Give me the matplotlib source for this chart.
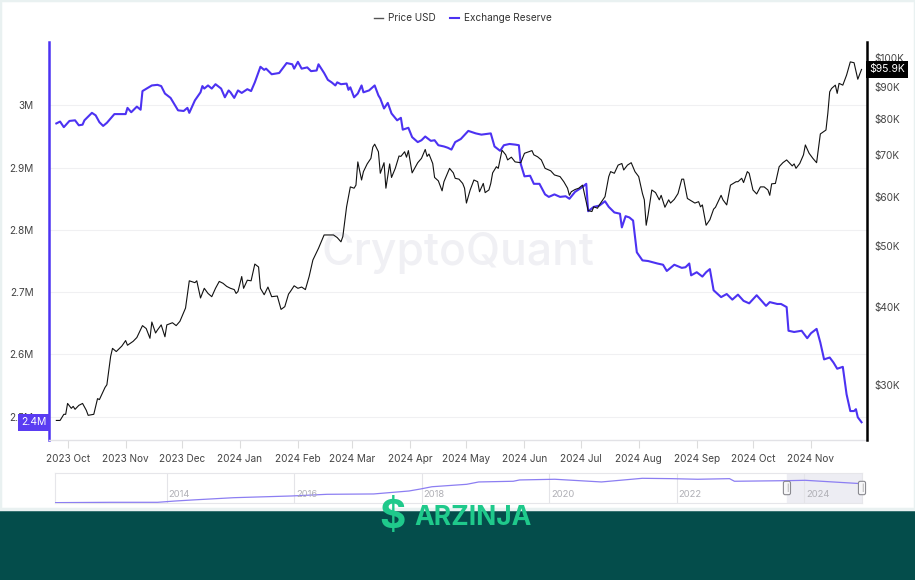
import matplotlib
matplotlib.use("Agg")
import matplotlib.pyplot as plt
import matplotlib.dates as mdates
import matplotlib.transforms as mtransforms
from matplotlib.patches import Rectangle
from matplotlib.lines import Line2D
import pandas as pd

plt.rcParams['font.family'] = ['Inter', 'DejaVu Sans']

# 交易所储备 (百万 BTC)
reserve_dates = [
    "2023-09-25", "2023-09-27", "2023-09-29", "2023-10-02", "2023-10-05", "2023-10-07", "2023-10-09",
    "2023-10-10", "2023-10-14", "2023-10-16", "2023-10-18", "2023-10-20", "2023-10-22", "2023-10-26",
    "2023-11-01", "2023-11-02", "2023-11-04", "2023-11-07", "2023-11-09", "2023-11-10", "2023-11-15",
    "2023-11-18", "2023-11-20", "2023-11-22", "2023-11-25", "2023-11-29", "2023-12-02", "2023-12-04",
    "2023-12-05", "2023-12-08", "2023-12-11", "2023-12-12", "2023-12-13", "2023-12-15", "2023-12-17",
    "2023-12-19", "2023-12-22", "2023-12-24", "2023-12-26", "2023-12-27", "2023-12-29", "2023-12-31",
    "2024-01-02", "2024-01-05", "2024-01-07", "2024-01-09", "2024-01-12", "2024-01-14", "2024-01-15",
    "2024-01-18", "2024-01-22", "2024-01-26", "2024-01-29", "2024-01-30", "2024-02-01", "2024-02-03",
    "2024-02-06", "2024-02-08", "2024-02-11", "2024-02-12", "2024-02-15", "2024-02-17", "2024-02-19",
    "2024-02-21", "2024-02-22", "2024-02-24", "2024-02-27", "2024-02-28", "2024-02-29", "2024-03-02",
    "2024-03-04", "2024-03-06", "2024-03-07", "2024-03-10", "2024-03-13", "2024-03-15", "2024-03-16",
    "2024-03-18", "2024-03-20", "2024-03-22", "2024-03-25", "2024-03-27", "2024-03-28", "2024-03-31",
    "2024-04-02", "2024-04-05", "2024-04-07", "2024-04-09", "2024-04-12", "2024-04-14", "2024-04-16",
    "2024-04-19", "2024-04-21", "2024-04-23", "2024-04-25", "2024-04-28", "2024-05-02", "2024-05-06",
    "2024-05-09", "2024-05-14", "2024-05-16", "2024-05-19", "2024-05-21", "2024-05-24", "2024-05-27",
    "2024-05-29", "2024-05-30", "2024-06-01", "2024-06-04", "2024-06-06", "2024-06-09", "2024-06-12",
    "2024-06-14", "2024-06-17", "2024-06-20", "2024-06-23", "2024-06-25", "2024-06-28", "2024-07-02",
    "2024-07-04", "2024-07-05", "2024-07-08", "2024-07-11", "2024-07-14", "2024-07-16", "2024-07-19",
    "2024-07-22", "2024-07-23", "2024-07-25", "2024-07-27", "2024-07-29", "2024-07-31", "2024-08-03",
    "2024-08-06", "2024-08-11", "2024-08-14", "2024-08-16", "2024-08-20", "2024-08-24", "2024-08-26",
    "2024-08-28", "2024-08-29", "2024-09-01", "2024-09-04", "2024-09-06", "2024-09-08", "2024-09-10",
    "2024-09-14", "2024-09-17", "2024-09-20", "2024-09-23", "2024-09-26", "2024-09-29", "2024-10-03",
    "2024-10-08", "2024-10-10", "2024-10-14", "2024-10-16", "2024-10-19", "2024-10-20", "2024-10-23",
    "2024-10-27", "2024-10-30", "2024-11-01", "2024-11-04", "2024-11-06", "2024-11-08", "2024-11-11",
    "2024-11-13", "2024-11-15", "2024-11-18", "2024-11-20", "2024-11-22", "2024-11-24", "2024-11-25",
    "2024-11-26", "2024-11-28",
]
reserve_vals = [
    2.971, 2.974, 2.965, 2.975, 2.976, 2.968, 2.969, 2.976, 2.988, 2.984, 2.973, 2.967, 2.972, 2.986,
    2.986, 2.996, 2.989, 2.998, 2.993, 3.023, 3.032, 3.033, 3.031, 3.019, 3.012, 2.992, 2.991, 2.996,
    2.988, 3.008, 3.021, 3.031, 3.027, 3.032, 3.027, 3.034, 3.027, 3.013, 3.024, 3.021, 3.012, 3.024,
    3.020, 3.026, 3.023, 3.037, 3.062, 3.057, 3.059, 3.050, 3.052, 3.068, 3.066, 3.059, 3.070, 3.059,
    3.061, 3.055, 3.056, 3.066, 3.052, 3.041, 3.037, 3.032, 3.037, 3.034, 3.035, 3.025, 3.029, 3.013,
    3.019, 3.032, 3.021, 3.024, 3.032, 3.016, 3.011, 2.995, 3.004, 2.987, 2.976, 2.980, 2.961, 2.964,
    2.949, 2.941, 2.944, 2.950, 2.943, 2.944, 2.936, 2.934, 2.932, 2.929, 2.941, 2.946, 2.959, 2.955,
    2.953, 2.955, 2.934, 2.927, 2.936, 2.938, 2.937, 2.936, 2.906, 2.886, 2.887, 2.874, 2.874, 2.857,
    2.853, 2.857, 2.853, 2.854, 2.850, 2.861, 2.869, 2.874, 2.830, 2.837, 2.839, 2.846, 2.837, 2.828,
    2.826, 2.804, 2.822, 2.820, 2.815, 2.764, 2.751, 2.750, 2.746, 2.744, 2.734, 2.744, 2.739, 2.740,
    2.746, 2.727, 2.732, 2.725, 2.732, 2.737, 2.703, 2.692, 2.697, 2.688, 2.696, 2.686, 2.682, 2.695,
    2.678, 2.684, 2.681, 2.681, 2.676, 2.638, 2.636, 2.638, 2.626, 2.634, 2.641, 2.619, 2.592, 2.595,
    2.587, 2.577, 2.580, 2.536, 2.509, 2.509, 2.512, 2.499, 2.491,
]

# BTC 价格 (千美元)
price_dates = [
    "2023-09-25", "2023-09-27", "2023-09-29", "2023-09-30", "2023-10-01", "2023-10-03", "2023-10-04",
    "2023-10-05", "2023-10-07", "2023-10-09", "2023-10-11", "2023-10-12", "2023-10-15", "2023-10-17",
    "2023-10-18", "2023-10-21", "2023-10-22", "2023-10-24", "2023-10-25", "2023-10-27", "2023-10-30",
    "2023-11-01", "2023-11-02", "2023-11-05", "2023-11-07", "2023-11-10", "2023-11-12", "2023-11-14",
    "2023-11-15", "2023-11-17", "2023-11-18", "2023-11-20", "2023-11-22", "2023-11-23", "2023-11-26",
    "2023-11-28", "2023-11-30", "2023-12-03", "2023-12-05", "2023-12-08", "2023-12-09", "2023-12-11",
    "2023-12-13", "2023-12-15", "2023-12-17", "2023-12-19", "2023-12-21", "2023-12-23", "2023-12-25",
    "2023-12-27", "2023-12-29", "2023-12-30", "2023-12-31", "2024-01-02", "2024-01-03", "2024-01-05",
    "2024-01-07", "2024-01-09", "2024-01-11", "2024-01-12", "2024-01-14", "2024-01-16", "2024-01-18",
    "2024-01-21", "2024-01-23", "2024-01-25", "2024-01-27", "2024-01-28", "2024-01-30", "2024-02-01",
    "2024-02-03", "2024-02-05", "2024-02-07", "2024-02-09", "2024-02-12", "2024-02-15", "2024-02-17",
    "2024-02-20", "2024-02-22", "2024-02-24", "2024-02-25", "2024-02-27", "2024-02-29", "2024-03-02",
    "2024-03-03", "2024-03-04", "2024-03-06", "2024-03-07", "2024-03-09", "2024-03-11", "2024-03-12",
    "2024-03-13", "2024-03-15", "2024-03-16", "2024-03-18", "2024-03-19", "2024-03-21", "2024-03-22",
    "2024-03-24", "2024-03-26", "2024-03-27", "2024-03-29", "2024-03-30", "2024-03-31", "2024-04-02",
    "2024-04-05", "2024-04-07", "2024-04-09", "2024-04-10", "2024-04-11", "2024-04-13", "2024-04-14",
    "2024-04-16", "2024-04-18", "2024-04-19", "2024-04-22", "2024-04-24", "2024-04-25", "2024-04-27",
    "2024-04-29", "2024-04-30", "2024-05-01", "2024-05-03", "2024-05-05", "2024-05-07", "2024-05-08",
    "2024-05-10", "2024-05-11", "2024-05-13", "2024-05-14", "2024-05-15", "2024-05-17", "2024-05-18",
    "2024-05-20", "2024-05-22", "2024-05-23", "2024-05-25", "2024-05-27", "2024-05-30", "2024-06-01",
    "2024-06-05", "2024-06-06", "2024-06-08", "2024-06-10", "2024-06-12", "2024-06-15", "2024-06-17",
    "2024-06-20", "2024-06-22", "2024-06-24", "2024-06-25", "2024-06-26", "2024-06-28", "2024-06-30",
    "2024-07-02", "2024-07-03", "2024-07-05", "2024-07-07", "2024-07-08", "2024-07-10", "2024-07-11",
    "2024-07-14", "2024-07-16", "2024-07-17", "2024-07-19", "2024-07-21", "2024-07-23", "2024-07-24",
    "2024-07-26", "2024-07-28", "2024-07-30", "2024-08-01", "2024-08-03", "2024-08-04", "2024-08-05",
    "2024-08-06", "2024-08-08", "2024-08-10", "2024-08-12", "2024-08-13", "2024-08-15", "2024-08-17",
    "2024-08-18", "2024-08-20", "2024-08-22", "2024-08-24", "2024-08-25", "2024-08-27", "2024-08-29",
    "2024-08-31", "2024-09-02", "2024-09-03", "2024-09-04", "2024-09-06", "2024-09-08", "2024-09-10",
    "2024-09-11", "2024-09-14", "2024-09-15", "2024-09-17", "2024-09-19", "2024-09-22", "2024-09-23",
    "2024-09-25", "2024-09-26", "2024-09-28", "2024-09-29", "2024-10-01", "2024-10-03", "2024-10-05",
    "2024-10-07", "2024-10-09", "2024-10-10", "2024-10-11", "2024-10-13", "2024-10-15", "2024-10-17",
    "2024-10-19", "2024-10-21", "2024-10-22", "2024-10-23", "2024-10-24", "2024-10-26", "2024-10-28",
    "2024-10-29", "2024-10-31", "2024-11-02", "2024-11-04", "2024-11-06", "2024-11-09", "2024-11-10",
    "2024-11-11", "2024-11-12", "2024-11-14", "2024-11-15", "2024-11-16", "2024-11-18", "2024-11-20",
    "2024-11-22", "2024-11-24", "2024-11-26", "2024-11-28",
]
price_vals = [
    26.3, 26.3, 26.9, 26.9, 28.0, 27.5, 27.7, 27.4, 27.8, 28.0, 27.3, 26.8, 26.9, 28.5,
    28.4, 29.7, 30.0, 33.3, 34.3, 33.9, 34.6, 35.3, 34.7, 35.2, 35.7, 37.3, 36.9, 35.6,
    37.8, 36.3, 36.7, 37.4, 35.8, 37.4, 37.7, 37.3, 37.9, 39.8, 44.0, 43.7, 44.0, 41.3,
    42.8, 42.0, 41.5, 42.8, 43.9, 43.6, 43.1, 42.8, 42.6, 42.0, 42.3, 44.7, 42.8, 44.1,
    44.0, 46.8, 46.3, 42.8, 41.8, 43.0, 41.5, 41.6, 39.6, 40.0, 41.9, 42.3, 43.2, 42.8,
    43.0, 42.6, 44.7, 47.5, 49.6, 52.1, 52.1, 52.1, 51.6, 50.8, 51.8, 57.8, 62.2, 61.9,
    62.6, 68.2, 63.8, 65.8, 67.7, 69.1, 72.0, 72.8, 70.8, 65.4, 68.0, 61.9, 67.7, 64.4,
    66.6, 69.7, 69.6, 70.8, 69.4, 71.1, 65.5, 68.0, 69.1, 71.4, 69.6, 70.2, 67.8, 64.4,
    63.6, 61.3, 63.4, 66.6, 65.5, 64.2, 64.0, 63.0, 61.9, 58.6, 61.5, 63.8, 63.4, 61.1,
    63.0, 60.9, 61.5, 63.0, 65.5, 67.0, 66.6, 71.2, 70.0, 68.7, 69.4, 68.2, 68.0, 70.4,
    71.1, 70.0, 69.5, 68.7, 66.6, 66.0, 65.0, 64.6, 63.4, 61.9, 60.3, 61.1, 61.6, 61.9,
    62.6, 60.7, 57.0, 56.8, 57.8, 57.5, 58.2, 60.0, 64.6, 65.8, 65.4, 67.4, 67.8, 66.2,
    67.4, 68.0, 65.8, 64.6, 60.7, 59.3, 54.0, 56.1, 61.5, 60.9, 59.3, 60.3, 57.7, 59.3,
    58.6, 59.4, 60.7, 64.0, 64.0, 59.6, 59.1, 58.6, 58.9, 57.8, 58.2, 54.0, 55.1, 57.3,
    57.7, 60.3, 59.3, 58.2, 62.6, 63.4, 63.4, 64.2, 63.2, 65.8, 65.4, 61.5, 60.6, 62.2,
    62.2, 61.5, 60.3, 62.9, 63.0, 67.0, 68.0, 68.7, 67.7, 67.2, 67.7, 66.6, 67.8, 70.0,
    72.6, 70.4, 69.1, 68.0, 75.6, 76.7, 81.6, 88.3, 89.4, 90.5, 87.8, 91.1, 90.5, 93.9,
    98.6, 98.3, 92.5, 95.9,
]

# 底部导航条：全历史交易所储备 (百万 BTC)
nav_dates = [
    "2012-04-01", "2013-02-17", "2013-11-10", "2014-02-20", "2014-05-30", "2015-01-20", "2015-12-20",
    "2016-07-08", "2017-04-01", "2017-10-20", "2017-12-25", "2018-03-01", "2018-09-16", "2018-11-24",
    "2019-06-10", "2019-07-16", "2020-02-03", "2020-10-27", "2021-06-18", "2021-12-02", "2022-05-01",
    "2022-10-31", "2022-11-28", "2023-10-01", "2024-01-08", "2024-11-28",
]
nav_vals = [
    0.31, 0.35, 0.35, 0.50, 0.62, 0.88, 1.08, 1.27, 1.31, 1.65, 1.88, 2.14, 2.42, 2.69,
    2.77, 2.92, 3.00, 2.69, 3.11, 3.07, 3.00, 3.07, 2.77, 2.84, 2.88, 2.49,
]

left_ticks = [2.5, 2.6, 2.7, 2.8, 2.9, 3.0]
left_labels = ["2.5M", "2.6M", "2.7M", "2.8M", "2.9M", "3M"]
right_ticks = [30, 40, 50, 60, 70, 80, 90, 100]
right_labels = ["$30K", "$40K", "$50K", "$60K", "$70K", "$80K", "$90K", "$100K"]
legend_labels = ["Price USD", "Exchange Reserve"]
last_price_label = "$95.9K"
last_reserve_label = "2.4M"

PURPLE = "#4c32f2"
BAND = "#044d4b"
GREEN = "#1fc98b"

rd = pd.to_datetime(reserve_dates)
pdts = pd.to_datetime(price_dates)
nd = pd.to_datetime(nav_dates)

fig = plt.figure(figsize=(9.15, 5.8), dpi=100)
fig.patch.set_facecolor("white")

ax = fig.add_axes([49 / 915, 1 - 440 / 580, 818 / 915, 398 / 580])
ax2 = ax.twinx()

ax.plot(rd, reserve_vals, color=PURPLE, lw=1.5, zorder=3)
ax2.plot(pdts, price_vals, color="#111111", lw=0.8, zorder=3)

ax.set_xlim(pd.Timestamp("2023-09-21 02:00"), pd.Timestamp("2024-11-30 22:00"))
ax.set_ylim(2.4625, 3.1018)
ax2.set_yscale("log")
ax2.set_ylim(24.47, 106.1)

ax.set_yticks(left_ticks)
ax.set_yticklabels(left_labels)
ax2.set_yticks(right_ticks)
ax2.set_yticklabels(right_labels)
ax2.yaxis.set_minor_locator(matplotlib.ticker.NullLocator())

ax.tick_params(axis="y", length=0, pad=11, labelsize=7.2, labelcolor="#444444")
ax2.tick_params(axis="y", length=0, pad=5, labelsize=7.2, labelcolor="#444444")

ax.xaxis.set_major_locator(mdates.MonthLocator())
ax.xaxis.set_major_formatter(mdates.DateFormatter("%Y %b"))
ax.tick_params(axis="x", length=6, width=0.8, color="#dcdcdc", pad=4,
               labelsize=7.2, labelcolor="#444444")

ax.grid(axis="y", color="#f0f0f2", lw=0.8)
ax.set_axisbelow(True)

for s in ["top", "right"]:
    ax.spines[s].set_visible(False)
for s in ["top", "left", "bottom"]:
    ax2.spines[s].set_visible(False)
ax.spines["left"].set_color(PURPLE)
ax.spines["left"].set_linewidth(1.8)
ax.spines["bottom"].set_color("#e2e2e6")
ax.spines["bottom"].set_linewidth(1.0)
ax2.spines["right"].set_color("#000000")
ax2.spines["right"].set_linewidth(1.8)

# 水印
ax.text(0.5, 0.47, "CryptoQuant", transform=ax.transAxes, ha="center", va="center",
        fontsize=32, color="#f0f0f4", fontweight="medium", zorder=0)

# 最新值标签
tr_l = mtransforms.blended_transform_factory(ax.transAxes, ax.transData)
ax.text(-0.003, reserve_vals[-1], last_reserve_label, transform=tr_l, ha="right", va="center",
        fontsize=7.5, color="white", zorder=6, clip_on=False,
        bbox=dict(boxstyle="square,pad=0.35", fc="#5a3cf2", ec="none"))
tr_r = mtransforms.blended_transform_factory(ax2.transAxes, ax2.transData)
ax2.text(1.003, price_vals[-1], last_price_label, transform=tr_r, ha="left", va="center",
         fontsize=7.5, color="white", zorder=6, clip_on=False,
         bbox=dict(boxstyle="square,pad=0.3", fc="#000000", ec="none"))

# 图例
handles = [Line2D([], [], color="#555555", lw=1.0), Line2D([], [], color=PURPLE, lw=1.5)]
fig.legend(handles, legend_labels, loc="center", bbox_to_anchor=(463 / 915, 1 - 18 / 580),
           ncol=2, frameon=False, fontsize=7.2, handlelength=0.9, handletextpad=0.5,
           columnspacing=1.4, labelcolor="#333333")

# 导航条
nav = fig.add_axes([55 / 915, 1 - 503 / 580, 807 / 915, 30 / 580])
nav.plot(nd, nav_vals, color="#8c7ef2", lw=0.9, zorder=3)
nav.set_xlim(nd[0], nd[-1])
nav.set_ylim(0.27, 3.72)
sel_start = pd.Timestamp("2023-09-25")
nav.axvspan(sel_start, nd[-1], color="#ededf3", zorder=0)
nav.xaxis.set_major_locator(mdates.YearLocator(2))
nav.grid(axis="x", color="#e4e4e8", lw=0.8)
nav.set_yticks([])
nav.tick_params(axis="x", length=0, labelbottom=False)
tr_n = mtransforms.blended_transform_factory(nav.transData, nav.transAxes)
for yr in range(2014, 2025, 2):
    nav.text(pd.Timestamp(f"{yr}-01-01") + pd.Timedelta(days=12), 0.12, str(yr),
             transform=tr_n, fontsize=6.8, color="#b0b0b6", ha="left", va="bottom")
for s in nav.spines.values():
    s.set_color("#e6e6ea")
    s.set_linewidth(0.8)
# 选择范围的两个拖动手柄
for d in [sel_start, nd[-1]]:
    nav.text(d, 0.5, "|", transform=tr_n, fontsize=5, color="#777777", ha="center", va="center",
             zorder=6, clip_on=False,
             bbox=dict(boxstyle="round,pad=0.35,rounding_size=0.25", fc="#f6f6f8",
                       ec="#8a8a90", lw=0.8))

# 底部品牌条
fig.patches.append(Rectangle((0, 0), 1, 71 / 580, transform=fig.transFigure,
                             fc=BAND, ec="none", zorder=0))
fig.text(392 / 915, 1 - 518 / 580, "$", fontsize=29, fontweight="bold", color=GREEN,
         ha="center", va="center", zorder=10)
fig.text(473 / 915, 1 - 518 / 580, "ARZINJA", fontsize=19, fontweight="bold", color=GREEN,
         ha="center", va="center", zorder=10, fontstretch="condensed")

# 外框
fig.patches.append(Rectangle((0, 71 / 580), 1, 1 - 71 / 580, transform=fig.transFigure,
                             fc="none", ec="#e9f1f1", lw=2.5, zorder=0))

fig.savefig("out.png", dpi=100)
